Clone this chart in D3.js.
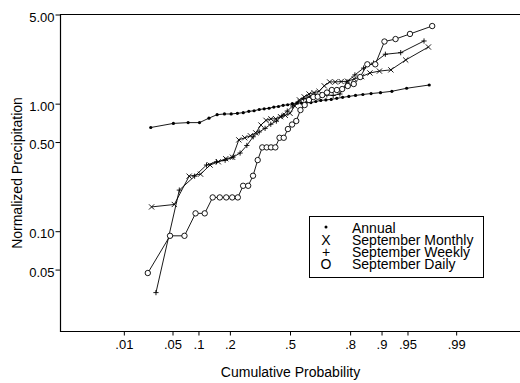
<!DOCTYPE html>
<html>
<head>
<meta charset="utf-8">
<script src="https://cdn.jsdelivr.net/npm/d3@7"></script>
<style>
  html, body { margin: 0; padding: 0; background: #fff; }
  svg { display: block; font-family: "Liberation Sans", Arial, Helvetica, sans-serif; }
</style>
</head>
<body>
<svg id="chart" width="520" height="383"></svg>
<script>
// Sorted normalized precipitation values for each series
const annual = [0.65, 0.70, 0.71, 0.71, 0.77, 0.82, 0.83, 0.83, 0.84, 0.85, 0.87, 0.88, 0.90, 0.91,
  0.92, 0.94, 0.95, 0.97, 0.98, 1.00, 1.01, 1.01, 1.02, 1.02, 1.04, 1.06, 1.07, 1.08, 1.10, 1.12,
  1.14, 1.16, 1.18, 1.20, 1.22, 1.25, 1.32, 1.40];
const septMonthly = [0.155, 0.162, 0.27, 0.28, 0.33, 0.35, 0.37, 0.38, 0.52, 0.54, 0.56, 0.59, 0.68,
  0.74, 0.76, 0.76, 0.79, 0.81, 0.84, 0.96, 1.07, 1.13, 1.19, 1.22, 1.25, 1.38, 1.48, 1.48, 1.49,
  1.50, 1.56, 1.63, 1.74, 1.80, 1.84, 2.20, 2.78];
const septWeekly = [0.033, 0.21, 0.27, 0.33, 0.35, 0.36, 0.38, 0.41, 0.47, 0.55, 0.60, 0.64, 0.69,
  0.73, 0.80, 0.875, 0.96, 1.03, 1.09, 1.13, 1.17, 1.17, 1.17, 1.16, 1.19, 1.48, 1.68, 1.90, 2.08,
  2.44, 2.51, 3.10];
const septDaily = [0.047, 0.092, 0.092, 0.138, 0.138, 0.184, 0.184, 0.184, 0.184, 0.184, 0.227, 0.227,
  0.272, 0.361, 0.454, 0.454, 0.454, 0.454, 0.540, 0.540, 0.632, 0.686, 0.731, 0.891, 0.975, 1.068,
  1.127, 1.134, 1.168, 1.222, 1.279, 1.279, 1.302, 1.375, 1.425, 1.617, 2.034, 2.034, 3.07, 3.21,
  3.52, 4.06];

// Axis ticks
const xTickValues = [0.01, 0.05, 0.1, 0.2, 0.5, 0.8, 0.9, 0.95, 0.99];
const xTickLabels = [".01", ".05", ".1", ".2", ".5", ".8", ".9", ".95", ".99"];
const yTickValues = [0.05, 0.10, 0.50, 1.00, 5.00];
const yTickLabels = ["0.05", "0.10", "0.50", "1.00", "5.00"];

const legendLabels = ["Annual", "September Monthly", "September Weekly", "September Daily"];
const legendGlyphs = ["dot", "X", "+", "O"];

// Inverse standard normal CDF (Acklam's rational approximation)
function probit(p) {
  const a = [-3.969683028665376e+01, 2.209460984245205e+02, -2.759285104469687e+02,
             1.383577518672690e+02, -3.066479806614716e+01, 2.506628277459239e+00];
  const b = [-5.447609879822406e+01, 1.615858368580409e+02, -1.556989798598866e+02,
             6.680131188771972e+01, -1.328068155288572e+01];
  const c = [-7.784894002430293e-03, -3.223964580411365e-01, -2.400758277161838e+00,
             -2.549732539343734e+00, 4.374664141464968e+00, 2.938163982698783e+00];
  const d = [7.784695709041462e-03, 3.224671290700398e-01, 2.445134137142996e+00,
             3.754408661907416e+00];
  const pl = 0.02425, ph = 1 - pl;
  let q, r;
  if (p < pl) {
    q = Math.sqrt(-2 * Math.log(p));
    return (((((c[0]*q+c[1])*q+c[2])*q+c[3])*q+c[4])*q+c[5]) / ((((d[0]*q+d[1])*q+d[2])*q+d[3])*q+1);
  }
  if (p <= ph) {
    q = p - 0.5; r = q * q;
    return (((((a[0]*r+a[1])*r+a[2])*r+a[3])*r+a[4])*r+a[5])*q / (((((b[0]*r+b[1])*r+b[2])*r+b[3])*r+b[4])*r+1);
  }
  q = Math.sqrt(-2 * Math.log(1 - p));
  return -(((((c[0]*q+c[1])*q+c[2])*q+c[3])*q+c[4])*q+c[5]) / ((((d[0]*q+d[1])*q+d[2])*q+d[3])*q+1);
}

// Rank-based plotting positions i/(n+1) on the normal probability scale
function toPoints(values) {
  const n = values.length;
  return values.map((v, i) => ({ z: probit((i + 1) / (n + 1)), v }));
}

const svg = d3.select("#chart");
const plotLeft = 60, plotRight = 520, plotTop = 14.5, plotBottom = 331;

const x = d3.scaleLinear().domain([-3.22, 3.22]).range([plotLeft, plotRight]);
const y = d3.scaleLog().domain([0.0165, 5]).range([plotBottom, plotTop]);

// Frame (open on the right, running past the window edge)
svg.append("path")
  .attr("d", `M${plotRight + 10},${plotTop}H${plotLeft + 0.5}V${plotBottom + 0.5}H${plotRight + 10}`)
  .attr("fill", "none").attr("stroke", "#000").attr("stroke-width", 1.2);

// Axes
const xAxis = d3.axisBottom(x)
  .tickValues(xTickValues.map(probit))
  .tickFormat((d, i) => xTickLabels[i])
  .tickSize(4).tickPadding(4);
const gx = svg.append("g").attr("transform", `translate(0,${plotBottom + 0.5})`).call(xAxis);
gx.select(".domain").remove();
gx.selectAll("text").attr("font-size", 13).attr("fill", "#000");

const yAxis = d3.axisLeft(y)
  .tickValues(yTickValues)
  .tickFormat((d, i) => yTickLabels[i])
  .tickSize(5).tickPadding(1);
const gy = svg.append("g").attr("transform", `translate(${plotLeft + 0.5},0)`).call(yAxis);
gy.select(".domain").remove();
gy.selectAll("text").attr("font-size", 13).attr("dy", "0.5em").attr("fill", "#000");

svg.selectAll(".tick line").attr("stroke", "#000");
svg.selectAll("g.tick").attr("font-family", null);
gx.attr("font-family", null).attr("font-size", null);
gy.attr("font-family", null).attr("font-size", null);

// Axis titles
svg.append("text")
  .attr("x", 290.5).attr("y", 377)
  .attr("text-anchor", "middle").attr("font-size", 14)
  .text("Cumulative Probability");
svg.append("text")
  .attr("transform", "translate(21.5,173) rotate(-90)")
  .attr("text-anchor", "middle").attr("font-size", 14)
  .text("Normalized Precipitation");

// Series
const line = d3.line().x(d => x(d.z)).y(d => y(d.v));

function drawSeries(values, marker) {
  const pts = toPoints(values);
  const g = svg.append("g");
  g.append("path").datum(pts).attr("d", line)
    .attr("fill", "none").attr("stroke", "#000").attr("stroke-width", 0.9);
  const m = g.selectAll("g.m").data(pts).join("g")
    .attr("transform", d => `translate(${x(d.z)},${y(d.v)})`);
  if (marker === "dot") {
    m.append("circle").attr("r", 1.6).attr("fill", "#000");
  } else if (marker === "X") {
    m.append("path").attr("d", "M-2.6,-2.6L2.6,2.6M-2.6,2.6L2.6,-2.6")
      .attr("stroke", "#000").attr("stroke-width", 0.9);
  } else if (marker === "+") {
    m.append("path").attr("d", "M-2.6,0H2.6M0,-2.6V2.6")
      .attr("stroke", "#000").attr("stroke-width", 0.9);
  } else {
    m.append("circle").attr("r", 2.7).attr("fill", "#fff")
      .attr("stroke", "#000").attr("stroke-width", 0.9);
  }
}

drawSeries(annual, "dot");
drawSeries(septMonthly, "X");
drawSeries(septWeekly, "+");
drawSeries(septDaily, "O");

// Legend
const lg = svg.append("g");
lg.append("rect").attr("x", 309.5).attr("y", 216.5).attr("width", 174).attr("height", 61)
  .attr("fill", "#fff").attr("stroke", "#000").attr("stroke-width", 1);
legendLabels.forEach((label, i) => {
  const by = 232.5 + i * 12;
  if (legendGlyphs[i] === "dot") {
    lg.append("circle").attr("cx", 326).attr("cy", by - 5.5).attr("r", 1.5).attr("fill", "#000");
  } else {
    lg.append("text").attr("x", 326).attr("y", by).attr("text-anchor", "middle")
      .attr("font-size", 14).text(legendGlyphs[i]);
  }
  lg.append("text").attr("x", 352).attr("y", by).attr("font-size", 14).text(label);
});
</script>
</body>
</html>
